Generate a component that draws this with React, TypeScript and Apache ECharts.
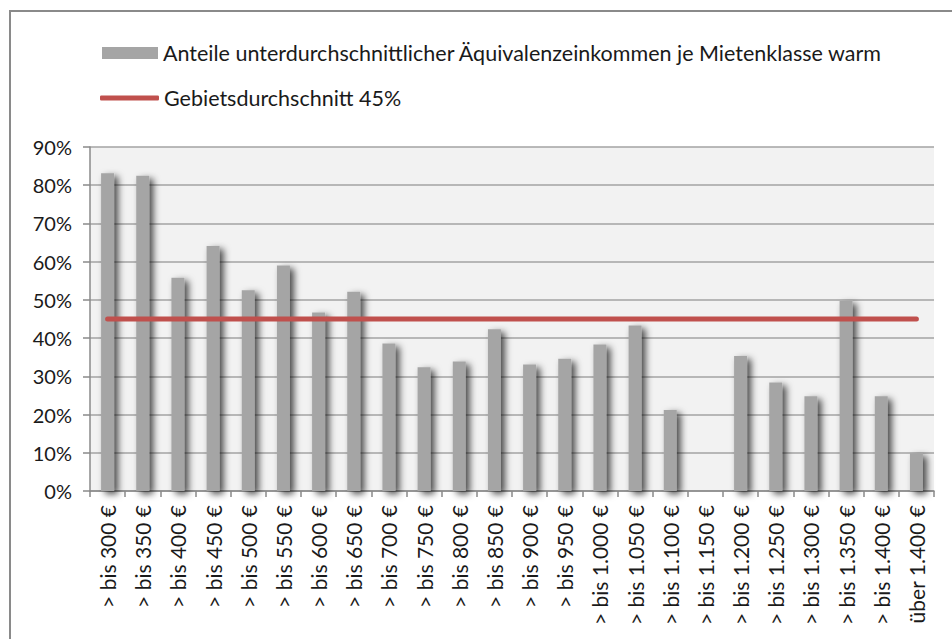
import React, { useEffect, useRef } from "react";
import * as echarts from "echarts";

const categories = [
  "> bis 300 €", "> bis 350 €", "> bis 400 €", "> bis 450 €", "> bis 500 €", "> bis 550 €",
  "> bis 600 €", "> bis 650 €", "> bis 700 €", "> bis 750 €", "> bis 800 €", "> bis 850 €",
  "> bis 900 €", "> bis 950 €", "> bis 1.000 €", "> bis 1.050 €", "> bis 1.100 €", "> bis 1.150 €",
  "> bis 1.200 €", "> bis 1.250 €", "> bis 1.300 €", "> bis 1.350 €", "> bis 1.400 €", "über 1.400 €",
];

const shares = [
  83.1, 82.5, 55.8, 64.1, 52.5, 59.0, 46.7, 52.1, 38.6, 32.4, 33.9, 42.3,
  33.1, 34.6, 38.3, 43.3, 21.2, 0, 35.3, 28.4, 24.8, 49.8, 24.8, 9.9,
];

const areaAverage = categories.map(() => 45);

const yTicks = [0, 10, 20, 30, 40, 50, 60, 70, 80, 90];

const barName = "Anteile unterdurchschnittlicher Äquivalenzeinkommen je Mietenklasse warm";
const lineName = "Gebietsdurchschnitt 45%";

const FONT = "Lato, 'Open Sans', sans-serif";

export default function App() {
  const ref = useRef<HTMLDivElement>(null);

  useEffect(() => {
    if (!ref.current) return;
    const chart = echarts.init(ref.current, undefined, { renderer: "svg" });
    chart.setOption({
      animation: false,
      backgroundColor: "#ffffff",
      graphic: [
        {
          type: "rect",
          shape: { x: 10, y: 11, width: 1000, height: 700 },
          style: { fill: "none", stroke: "#8a8a8a", lineWidth: 2 },
          silent: true,
        },
      ],
      legend: [
        {
          orient: "vertical",
          left: 97,
          top: 37,
          itemWidth: 56,
          itemHeight: 12,
          itemGap: 20,
          textStyle: { fontFamily: FONT, fontSize: 21.5, color: "#1a1a1a" },
          data: [{ name: barName, icon: "rect" }],
        },
        {
          orient: "vertical",
          left: 95,
          top: 82,
          itemWidth: 59,
          itemHeight: 5,
          textStyle: { fontFamily: FONT, fontSize: 21.5, color: "#1a1a1a" },
          data: [{ name: lineName, icon: "roundRect" }],
        },
      ],
      grid: {
        left: 90,
        right: 18,
        top: 147,
        bottom: 148,
        show: true,
        backgroundColor: "#f2f2f2",
        borderWidth: 0,
      },
      xAxis: {
        type: "category",
        data: categories,
        boundaryGap: true,
        axisLine: { show: true, lineStyle: { color: "#8a8a8a", width: 1.5 } },
        axisTick: { show: true, length: 6, lineStyle: { color: "#8a8a8a", width: 1.5 } },
        axisLabel: {
          interval: 0,
          rotate: 90,
          margin: 14,
          fontFamily: FONT,
          fontSize: 21,
          color: "#1a1a1a",
        },
      },
      yAxis: {
        type: "value",
        min: yTicks[0],
        max: yTicks[yTicks.length - 1],
        interval: 10,
        axisLine: { show: true, lineStyle: { color: "#8a8a8a", width: 1.5 } },
        axisTick: { show: true, length: 7, lineStyle: { color: "#8a8a8a", width: 1.5 } },
        axisLabel: {
          formatter: "{value}%",
          margin: 18,
          fontFamily: FONT,
          fontSize: 20,
          color: "#1a1a1a",
        },
        splitLine: { show: true, lineStyle: { color: "#a3a3a3", width: 1.5 } },
      },
      series: [
        {
          name: barName,
          type: "bar",
          data: shares,
          barWidth: 13,
          itemStyle: {
            color: "#a5a5a5",
            shadowColor: "rgba(0,0,0,0.7)",
            shadowBlur: 7,
            shadowOffsetX: 4,
            shadowOffsetY: 3,
          },
        },
        {
          name: lineName,
          type: "line",
          data: areaAverage,
          symbol: "none",
          z: 5,
          lineStyle: { color: "#c0504d", width: 5, cap: "round" },
          itemStyle: { color: "#c0504d" },
        },
      ],
    });
    return () => chart.dispose();
  }, []);

  return (
    <div
      ref={ref}
      style={{ position: "fixed", left: 0, top: 0, width: 952, height: 639 }}
    />
  );
}
